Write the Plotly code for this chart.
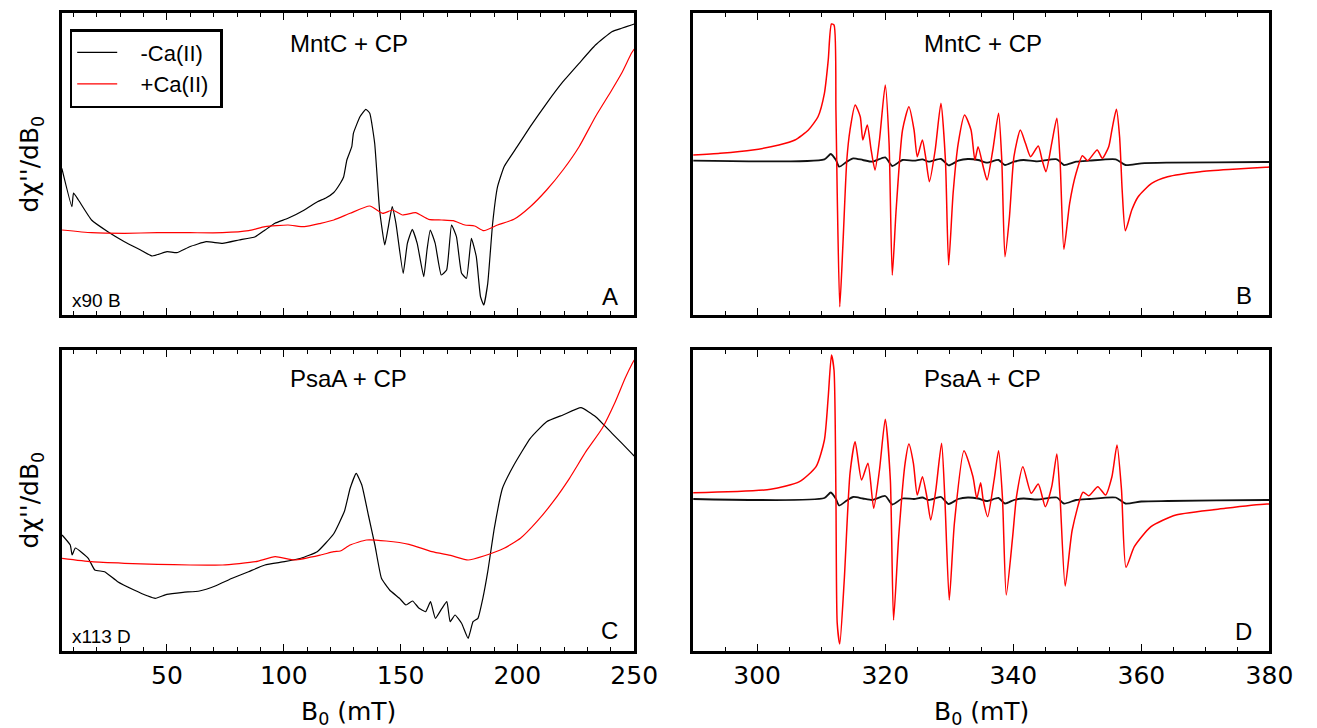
import plotly.graph_objects as go

W, H = 1317, 728

# ---------------- data (arbitrary intensity units) ----------------
# Panel A : MntC + CP, low field
a_black_x = [5.0, 9.3, 10.0, 12.1, 17.7, 24.7, 31.8, 38.7, 43.7, 50.0, 54.2, 59.7, 66.8, 73.8, 80.8,
             87.8, 92.0, 96.2, 101.8, 108.8, 114.4, 118.0, 121.4, 124.2, 125.6, 127.0, 129.1, 129.8,
             132.6, 135.1, 136.8, 138.9, 141.0, 143.2, 144.5, 146.4, 148.0, 151.1, 152.9, 155.0,
             157.1, 159.9, 161.3, 162.7, 164.8, 167.4, 169.7, 171.8, 173.9, 176.1, 178.2, 180.3,
             182.4, 184.2, 185.6, 187.3, 189.4, 191.5, 194.3, 199.9, 205.5, 212.5, 219.5, 226.4,
             233.4, 240.4, 244.6, 248.8, 250.0]
a_black_y = [146.7, 108.3, 122.0, 115.0, 95.0, 83.3, 73.3, 65.0, 59.0, 63.3, 62.3, 68.3, 73.3, 71.7, 75.0,
             78.3, 85.0, 91.7, 96.7, 105.0, 113.3, 117.0, 122.5, 131.7, 138.0, 155.0, 168.3, 181.7,
             198.3, 205.7, 201.7, 171.7, 105.0, 70.0, 85.0, 108.3, 91.7, 41.7, 71.7, 85.7,
             71.7, 38.3, 65.0, 85.0, 71.7, 40.0, 45.0, 90.0, 78.3, 41.7, 36.7, 76.7,
             58.3, 18.3, 10.0, 31.7, 91.7, 128.3, 148.3, 168.3, 188.3, 211.7, 233.3, 251.7,
             270.0, 283.3, 286.7, 290.0, 291.0]
a_red_x = [5.1, 17.7, 31.8, 45.9, 59.9, 73.8, 85.0, 92.0, 101.8, 108.8, 115.8, 121.4, 128.4, 136.8,
           142.4, 146.6, 150.8, 156.4, 162.0, 167.6, 172.5, 177.5, 181.7, 185.6, 191.5, 198.5, 205.5,
           212.5, 219.5, 226.4, 233.4, 240.4, 244.6, 248.8, 250.0]
a_red_y = [85.0, 82.3, 81.7, 82.3, 82.3, 82.3, 84.3, 88.3, 90.0, 88.3, 91.7, 95.0, 101.7, 109.0,
           101.7, 105.0, 100.0, 102.3, 95.7, 95.0, 94.3, 90.0, 89.0, 84.3, 90.0, 95.7, 108.3,
           125.0, 145.0, 168.3, 198.3, 225.0, 241.7, 261.7, 266.0]

# Panel C : PsaA + CP, low field
c_black_x = [5.1, 8.6, 9.4, 10.8, 16.3, 19.1, 23.3, 28.9, 35.9, 41.5, 45.0, 49.9, 56.9, 63.9, 70.9,
             77.9, 84.9, 91.9, 100.3, 107.3, 114.3, 121.3, 126.0, 128.4, 131.0, 133.4, 136.2, 139.0,
             141.8, 145.3, 149.5, 152.3, 155.1, 157.9, 160.7, 162.8, 164.9, 167.7, 169.8, 171.2,
             173.3, 176.1, 178.9, 181.0, 183.1, 185.2, 187.3, 190.1, 193.6, 198.5, 205.5, 212.5,
             219.5, 227.2, 233.5, 240.5, 248.9, 250.0]
c_black_y = [116.0, 106.0, 96.0, 103.0, 92.7, 81.0, 79.3, 69.3, 61.0, 55.3, 52.7, 56.7, 58.7, 60.0, 65.3,
             72.7, 79.3, 86.0, 89.3, 92.7, 99.3, 117.0, 140.0, 162.7, 177.7, 166.0, 136.0, 106.0,
             72.7, 61.0, 52.7, 46.0, 50.0, 42.7, 39.3, 49.3, 32.7, 42.7, 49.3, 29.3,
             36.0, 27.7, 12.7, 29.3, 32.7, 52.7, 79.3, 122.7, 162.7, 186.0, 212.7, 229.3,
             236.0, 243.3, 234.3, 217.7, 197.7, 195.0]
c_red_x = [5.1, 17.7, 31.8, 45.9, 59.9, 73.8, 87.9, 96.3, 104.7, 115.8, 121.4, 124.2, 128.4, 135.4,
           143.8, 153.6, 163.4, 171.8, 178.9, 185.9, 194.3, 201.3, 208.3, 215.3, 222.3, 229.3,
           236.3, 241.9, 246.1, 249.2, 250.0]
c_red_y = [92.7, 89.3, 87.7, 86.7, 86.0, 86.0, 89.3, 94.3, 91.0, 96.0, 99.3, 100.0, 106.0, 111.0,
           110.0, 106.7, 99.3, 95.3, 91.0, 95.3, 102.7, 112.7, 129.3, 149.3, 172.7, 199.3,
           222.7, 249.3, 272.7, 287.7, 291.0]

# Panel B : MntC + CP, high field
b_red_x = [290.0, 294.2, 299.3, 303.4, 305.9, 308.0, 309.5, 310.5, 311.1, 311.6, 312.0, 312.3, 312.5,
           312.9, 313.4, 314.0, 314.5, 315.3, 316.1, 316.5, 317.2, 317.8, 318.4, 319.1, 320.0, 320.6,
           321.1, 321.7, 322.7, 323.7, 324.5, 325.0, 325.8, 326.3, 326.9, 327.8, 328.7, 329.4, 329.9,
           330.6, 331.4, 332.4, 333.4, 334.0, 334.5, 335.3, 335.9, 336.8, 337.7, 338.2, 338.7, 339.4,
           340.1, 341.1, 341.9, 342.7, 343.9, 344.5, 345.1, 346.0, 346.8, 347.3, 347.9, 348.8, 349.8,
           350.8, 351.6, 353.1, 353.9, 354.9, 355.4, 356.1, 356.6, 357.0, 357.5, 358.5, 359.5, 361.6,
           364.1, 369.2, 374.3, 379.4, 380.0]
b_red_y = [160.0, 161.7, 165.0, 170.0, 175.0, 185.0, 198.3, 221.7, 255.0, 291.0, 290.0, 205.0, 122.0,
           8.3, 71.7, 155.0, 185.0, 210.0, 198.3, 175.0, 190.0, 165.0, 145.0, 175.0, 230.0, 171.7,
           40.0, 105.0, 185.0, 208.3, 185.0, 158.3, 175.0, 158.3, 133.3, 165.0, 211.7, 155.0, 50.0,
           121.7, 171.7, 200.0, 185.0, 155.0, 168.3, 148.3, 135.0, 165.0, 201.7, 155.0, 58.3, 98.3,
           158.3, 185.0, 171.7, 158.3, 169.0, 155.0, 143.3, 171.7, 196.7, 155.0, 65.7, 111.7, 141.7,
           159.3, 154.3, 165.0, 156.7, 168.3, 185.0, 205.7, 178.3, 125.0, 84.3, 105.0, 118.3, 131.7,
           138.3, 143.3, 145.7, 147.7, 148.0]
b_black_x = [290.0, 310.5, 311.5, 312.3, 312.8, 314.0, 315.0, 316.5, 318.0, 320.0, 321.1, 322.7, 324.5,
             325.8, 326.8, 328.7, 329.9, 331.4, 332.9, 334.5, 335.9, 337.7, 338.7, 340.1, 341.6,
             343.7, 346.8, 347.9, 349.8, 351.9, 356.0, 357.5, 360.0, 364.1, 379.4, 380.0]
b_black_y = [154.3, 155.7, 161.0, 155.0, 148.3, 153.3, 156.7, 155.0, 153.3, 157.7, 149.0, 155.0, 154.3,
             155.7, 153.3, 156.0, 149.7, 154.3, 156.0, 155.0, 152.3, 155.0, 150.0, 153.3, 155.0,
             153.7, 155.7, 150.0, 153.3, 154.3, 155.7, 150.0, 151.7, 152.3, 153.0, 153.0]

# Panel D : PsaA + CP, high field
d_red_x = [290.0, 302.1, 306.6, 309.2, 310.5, 311.1, 311.6, 312.0, 312.3, 312.5, 312.9, 313.6, 314.5,
           315.3, 316.3, 317.3, 318.2, 319.1, 320.0, 320.8, 321.3, 322.1, 323.1, 323.7, 324.4, 325.0,
           325.8, 326.5, 327.1, 327.9, 328.8, 329.3, 330.0, 330.8, 332.3, 333.7, 334.3, 334.9, 335.3,
           336.0, 337.0, 337.7, 338.3, 338.9, 339.9, 340.5, 341.5, 342.8, 343.9, 345.0, 346.0, 346.8,
           347.3, 348.1, 349.2, 350.9, 351.8, 353.2, 354.4, 355.4, 356.2, 356.9, 357.6, 358.9, 361.5,
           365.4, 373.1, 379.6, 380.0]
d_red_y = [158.3, 161.7, 169.3, 184.3, 211.0, 254.3, 296.0, 281.0, 154.3, 27.7, 7.0, 71.0, 177.7,
           209.3, 171.0, 187.7, 142.7, 181.0, 231.7, 171.0, 31.0, 114.3, 187.7, 207.0, 187.7, 156.0,
           174.3, 154.3, 131.0, 161.0, 207.7, 154.3, 51.0, 127.7, 200.3, 174.3, 152.7, 168.3, 151.0,
           134.3, 171.0, 200.3, 154.3, 56.0, 114.3, 154.3, 184.3, 157.7, 167.0, 144.3, 164.3, 197.0,
           154.3, 65.0, 121.0, 158.7, 155.3, 164.3, 156.0, 174.3, 206.0, 161.0, 83.7, 104.3, 124.3,
           136.0, 142.7, 147.0, 147.0]
d_black_x = [290.0, 310.5, 311.5, 312.3, 312.8, 314.0, 315.0, 316.5, 318.0, 320.0, 321.1, 322.7, 324.5,
             325.8, 326.8, 328.7, 329.9, 331.4, 332.9, 334.5, 335.9, 337.7, 338.7, 340.1, 341.6,
             343.7, 346.8, 347.9, 349.8, 351.9, 356.0, 357.5, 360.0, 364.1, 379.6, 380.0]
d_black_y = [152.0, 153.0, 158.5, 152.0, 145.5, 150.5, 154.0, 152.5, 151.0, 155.0, 146.5, 152.5, 152.0,
             153.5, 151.0, 154.0, 147.0, 152.0, 153.5, 152.5, 150.0, 153.0, 147.5, 151.0, 152.5,
             151.5, 153.5, 147.5, 151.0, 152.0, 153.5, 147.5, 149.5, 150.0, 151.0, 151.0]

legend_names = ["-Ca(II)", "+Ca(II)"]
panel_titles = ["MntC + CP", "MntC + CP", "PsaA + CP", "PsaA + CP"]
panel_letters = ["A", "B", "C", "D"]
scale_notes = ["x90 B", "x113 D"]
low_ticks = [50, 100, 150, 200, 250]
high_ticks = [300, 320, 340, 360, 380]

# ---------------- layout helpers ----------------
def px(x):
    return x / W

def py(y):
    return 1 - y / H

LEFT = (63, 646)
RIGHT = (706, 1293)
TOP = (13, 315)
BOT = (350, 651)

fig = go.Figure()

def add(x, y, color, xa, ya, width, name=None, show=False, smooth=0.5):
    fig.add_trace(go.Scatter(x=x, y=y, mode="lines",
                             line=dict(color=color, width=width, shape="spline", smoothing=smooth),
                             xaxis=xa, yaxis=ya, name=name, showlegend=show,
                             hoverinfo="skip"))

NB = "\u00a0"
add(a_black_x, a_black_y, "black", "x", "y", 1.2, NB * 3 + legend_names[0] + NB, True, 0.4)
add(a_red_x, a_red_y, "#ff0000", "x", "y", 1.2, NB * 3 + legend_names[1] + NB, True, 0.5)
add(b_black_x, b_black_y, "#111111", "x2", "y2", 1.8, smooth=0.6)
add(b_red_x, b_red_y, "#ff0000", "x2", "y2", 1.5, smooth=0.6)
add(c_black_x, c_black_y, "black", "x3", "y3", 1.2, smooth=0.4)
add(c_red_x, c_red_y, "#ff0000", "x3", "y3", 1.2, smooth=0.5)
add(d_black_x, d_black_y, "#111111", "x4", "y4", 1.8, smooth=0.6)
add(d_red_x, d_red_y, "#ff0000", "x4", "y4", 1.5, smooth=0.6)

tickfont = dict(family="DejaVu Sans", size=25, color="black")

def xaxis(dom, rng, ticks, minor, labels, anchor):
    return dict(domain=[px(dom[0]), px(dom[1])], range=rng, anchor=anchor,
                showline=True, linewidth=2.5, linecolor="black", mirror="ticks",
                ticks="inside", ticklen=7, tickwidth=1.3, tickcolor="black",
                tickvals=ticks, showticklabels=labels, tickfont=tickfont,
                minor=dict(ticks="inside", ticklen=4, tickwidth=1.1, tickcolor="black",
                           dtick=minor, tick0=0, showgrid=False),
                showgrid=False, zeroline=False, fixedrange=True)

def yaxis(dom, rng, anchor):
    return dict(domain=[py(dom[1]), py(dom[0])], range=rng, anchor=anchor,
                showline=True, linewidth=2.5, linecolor="black", mirror=True,
                ticks="", showticklabels=False, showgrid=False, zeroline=False,
                fixedrange=True)

fig.update_layout(
    width=W, height=H,
    margin=dict(l=0, r=0, t=0, b=0),
    paper_bgcolor="white", plot_bgcolor="white",
    xaxis=xaxis(LEFT, [5, 250], low_ticks, 10, False, "y"),
    xaxis2=xaxis(RIGHT, [290, 380], high_ticks, 5, False, "y2"),
    xaxis3=xaxis(LEFT, [5, 250], low_ticks, 10, True, "y3"),
    xaxis4=xaxis(RIGHT, [290, 380], high_ticks, 5, True, "y4"),
    yaxis=yaxis(TOP, [0, 302], "x"),
    yaxis2=yaxis(TOP, [0, 302], "x2"),
    yaxis3=yaxis(BOT, [0, 301], "x3"),
    yaxis4=yaxis(BOT, [0, 301], "x4"),
    legend=dict(x=px(71), y=py(29), xanchor="left", yanchor="top",
                bordercolor="black", borderwidth=2.5, bgcolor="white",
                font=dict(family="Liberation Sans", size=22, color="black"),
                itemwidth=40, tracegroupgap=0),
    showlegend=True,
)

ann = []
def text(x, y, s, size, family="Liberation Sans", xanchor="center", angle=0):
    ann.append(dict(x=px(x), y=py(y), xref="paper", yref="paper", text=s, showarrow=False,
                    xanchor=xanchor, yanchor="middle", textangle=angle,
                    font=dict(family=family, size=size, color="black")))

ytitle = "d\u03c7''/dB<sub>0</sub>"
xtitle = "B<sub>0</sub> (mT)"
text(32, 164, ytitle, 25, "DejaVu Sans", angle=-90)
text(32, 500, ytitle, 25, "DejaVu Sans", angle=-90)
text(354.5, 713, xtitle, 25, "DejaVu Sans")
text(999.5, 713, xtitle, 25, "DejaVu Sans")
text(355, 43, panel_titles[0], 24)
text(1001, 43, panel_titles[1], 24)
text(355, 378, panel_titles[2], 24)
text(1001, 378, panel_titles[3], 24)
text(621, 296, panel_letters[0], 24)
text(1267, 295, panel_letters[1], 24)
text(621, 630, panel_letters[2], 24)
text(1267, 631, panel_letters[3], 24)
text(71, 300, scale_notes[0], 19, xanchor="left")
text(71, 636, scale_notes[1], 19, xanchor="left")
fig.update_layout(annotations=ann)

fig.write_html("out.html", config={"displayModeBar": False},
               post_script="document.body.style.margin='0px';document.body.style.padding='0px';")
